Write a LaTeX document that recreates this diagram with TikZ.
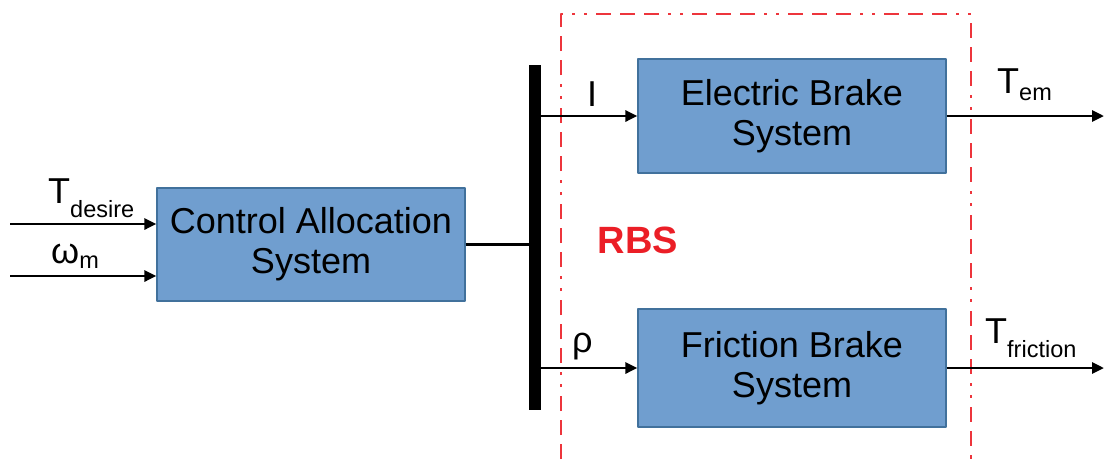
\documentclass[tikz,border=0pt]{standalone}
\usepackage{fontspec}
\setmainfont{Liberation Sans}
\usetikzlibrary{arrows.meta,calc}
\definecolor{boxfill}{RGB}{112,158,207}
\definecolor{boxedge}{RGB}{65,113,156}
\definecolor{rbsred}{RGB}{235,30,38}
\newcommand{\lowidx}[2]{\raisebox{-#1}{\fontsize{23.5}{26}\selectfont #2}}
\begin{document}
\begin{tikzpicture}[x=1pt, y=-1pt, line join=round,
		font=\fontsize{36}{40}\selectfont,
		block/.style={draw=boxedge, line width=1.3pt, fill=boxfill, align=center, minimum width=308pt, inner sep=0pt},
		sig/.style={line width=2.9pt, -{Triangle[length=12pt,width=11pt]}},
		lbl/.style={anchor=base west, inner sep=0pt}]
	\useasboundingbox (0,0) rectangle (1105,459);
	% blocks
	\node[block, minimum height=113pt] (cas) at (311,244.5) {Control Allocation\\System};
	\node[block, minimum height=114pt] (ebs) at (792,116) {Electric Brake\\System};
	\node[block, minimum height=118pt] (fbs) at (792,368) {Friction Brake\\System};
	\node[fill=black, minimum width=12pt, minimum height=345pt, inner sep=0pt] (bus) at (535,237.5) {};
	% RBS frame
	\draw[rbsred!90, line width=1.8pt, dash pattern=on 15pt off 9pt on 15pt off 9pt on 15pt off 9pt on 3pt off 9pt on 3pt off 9pt]
		(561,459) -- (561,14) -- (971,14) -- (971,459);
	\node[text=rbsred, font=\fontsize{38}{40}\selectfont\bfseries] (rbs) at (638,240) {RBS};
	% inputs
	\coordinate (tdin) at (10,224);
	\coordinate (wmin) at (10,276);
	\draw[sig] (tdin) -- (tdin -| cas.west);
	\draw[sig] (wmin) -- (wmin -| cas.west);
	\node[lbl] (tdlbl) at (48,203) {T\lowidx{14pt}{desire}};
	\node[lbl] (wmlbl) at (51,263) {ω\lowidx{5pt}{m}};
	% allocation to bus
	\draw[line width=3.5pt] (cas.east) -- (cas.east -| bus.west);
	\draw[sig] (bus.east |- ebs.west) -- (ebs.west);
	\draw[sig] (bus.east |- fbs.west) -- (fbs.west);
	\node[lbl] (ilbl) at (587,106) {I};
	\node[lbl] (rholbl) at (572,352) {ρ};
	% outputs
	\coordinate (temout) at (1104,116);
	\coordinate (tfrout) at (1104,368);
	\draw[sig] (ebs.east) -- (temout);
	\draw[sig] (fbs.east) -- (tfrout);
	\node[lbl] (temlbl) at (997,93) {T\lowidx{7pt}{em}};
	\node[lbl] (tfrlbl) at (985,343) {T\lowidx{14pt}{friction}};
\end{tikzpicture}
\end{document}
